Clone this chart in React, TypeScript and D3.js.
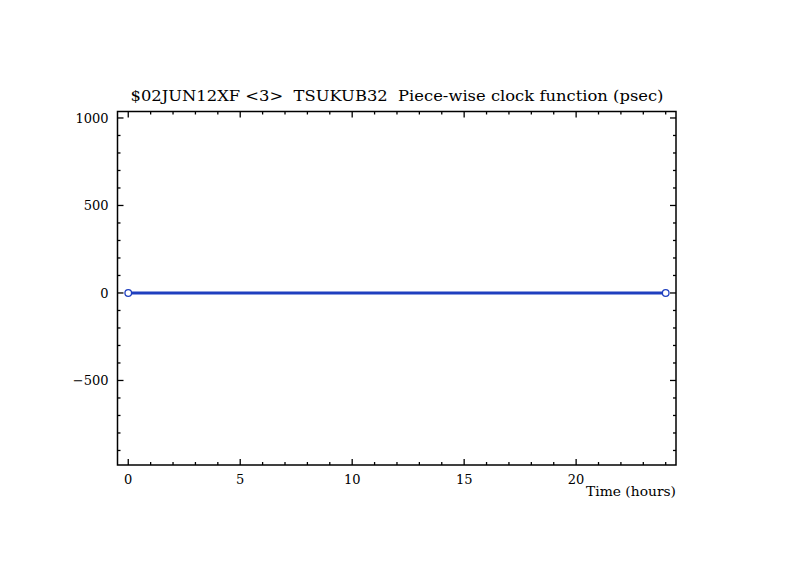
import * as d3 from "d3";

// Clock function samples (hours, psec)
const times = [0, 24];
const clockValues = [0, 0];

const xTickValues = [0, 5, 10, 15, 20];
const yTickValues = [-500, 0, 500, 1000];

const titleText = "$02JUN12XF <3>  TSUKUB32  Piece-wise clock function (psec)";
const xLabel = "Time (hours)";

const W = 794;
const H = 577;
const margin = { top: 111.5, right: 118, bottom: 112, left: 117.5 };
const FONT = "'DejaVu Serif', 'Liberation Serif', serif";
const LINE = "#1f3fbf";

export default function App() {
  const innerW = W - margin.left - margin.right;
  const innerH = H - margin.top - margin.bottom;

  const x = d3.scaleLinear().domain([-0.48, 24.46]).range([0, innerW]);
  const y = d3.scaleLinear().domain([-983, 1037]).range([innerH, 0]);

  const xMinor = d3.range(0, 25, 1).filter((v) => !xTickValues.includes(v));
  const yMinor = d3.range(-900, 1001, 100).filter((v) => !yTickValues.includes(v));

  const pts = times.map((t, i) => [t, clockValues[i]] as [number, number]);
  const line = d3.line<[number, number]>()
    .x((d) => x(d[0]))
    .y((d) => y(d[1]));

  return (
    <svg
      width={W}
      height={H}
      style={{ position: "absolute", left: 0, top: 0, background: "#fff" }}
    >
      <text
        x={W / 2}
        y={101}
        textAnchor="middle"
        fontFamily={FONT}
        fontSize={15}
        textLength={533}
        lengthAdjust="spacingAndGlyphs"
        style={{ whiteSpace: "pre" }}
      >
        {titleText}
      </text>

      <g transform={`translate(${margin.left},${margin.top})`}>
        {/* data line */}
        <path d={line(pts) || ""} fill="none" stroke={LINE} strokeWidth={3} />
        {pts.map((d, i) => (
          <circle key={i} cx={x(d[0])} cy={y(d[1])} r={3.3} fill="#fff" stroke={LINE} strokeWidth={1.3} />
        ))}

        {/* frame */}
        <rect x={0} y={0} width={innerW} height={innerH} fill="none" stroke="#000" strokeWidth={1.5} />

        {/* x ticks, bottom and top */}
        {xTickValues.map((v) => (
          <g key={"xt" + v}>
            <line x1={x(v)} x2={x(v)} y1={innerH} y2={innerH - 6} stroke="#000" strokeWidth={1.3} />
            <line x1={x(v)} x2={x(v)} y1={0} y2={6} stroke="#000" strokeWidth={1.3} />
            <text x={x(v)} y={innerH + 19} textAnchor="middle" fontFamily={FONT} fontSize={13}>
              {v}
            </text>
          </g>
        ))}
        {xMinor.map((v) => (
          <g key={"xm" + v}>
            <line x1={x(v)} x2={x(v)} y1={innerH} y2={innerH - 3} stroke="#000" strokeWidth={1.3} />
            <line x1={x(v)} x2={x(v)} y1={0} y2={3} stroke="#000" strokeWidth={1.3} />
          </g>
        ))}

        {/* y ticks, left and right */}
        {yTickValues.map((v) => (
          <g key={"yt" + v}>
            <line x1={0} x2={6} y1={y(v)} y2={y(v)} stroke="#000" strokeWidth={1.3} />
            <line x1={innerW} x2={innerW - 6} y1={y(v)} y2={y(v)} stroke="#000" strokeWidth={1.3} />
            <text x={-9} y={y(v) + 5} textAnchor="end" fontFamily={FONT} fontSize={13}>
              {v < 0 ? "\u2212" + Math.abs(v) : v}
            </text>
          </g>
        ))}
        {yMinor.map((v) => (
          <g key={"ym" + v}>
            <line x1={0} x2={3} y1={y(v)} y2={y(v)} stroke="#000" strokeWidth={1.3} />
            <line x1={innerW} x2={innerW - 3} y1={y(v)} y2={y(v)} stroke="#000" strokeWidth={1.3} />
          </g>
        ))}

        <text
          x={innerW}
          y={innerH + 31}
          textAnchor="end"
          fontFamily={FONT}
          fontSize={13}
          textLength={90}
          lengthAdjust="spacingAndGlyphs"
        >
          {xLabel}
        </text>
      </g>
    </svg>
  );
}
